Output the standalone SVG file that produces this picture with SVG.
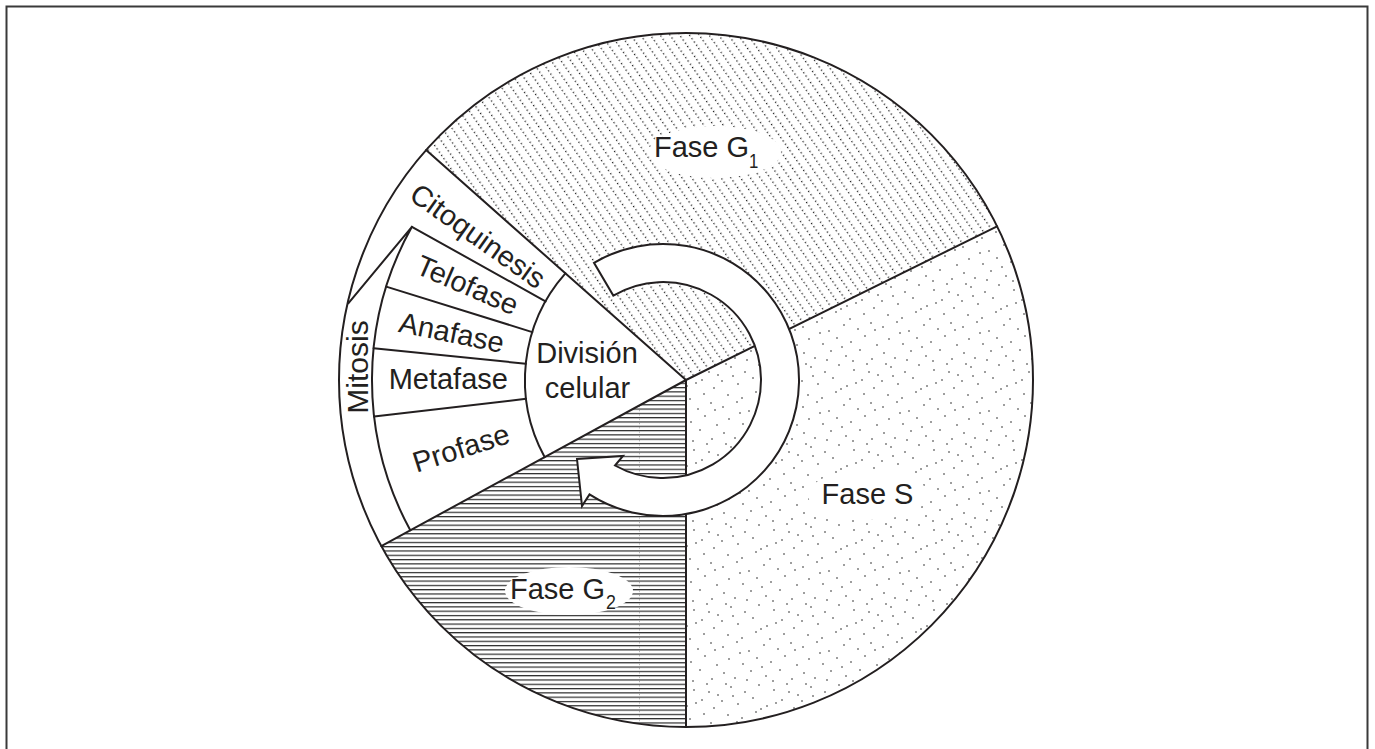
<svg xmlns="http://www.w3.org/2000/svg" width="1375" height="749" viewBox="0 0 1375 749">
<defs>
<style>
.ol{fill:none;stroke:#231f20;stroke-width:2;stroke-linejoin:round;stroke-linecap:round}
.t{font-family:"Liberation Sans",Arial,sans-serif;font-size:29px;fill:#231f20}
.sub{font-family:"Liberation Sans",Arial,sans-serif;font-size:21px;fill:#231f20}
.dot{fill:#222}
</style>
<pattern id="pG1" patternUnits="userSpaceOnUse" width="8" height="4" patternTransform="rotate(-35)"><rect width="1.3" height="1.3" fill="#1a1a1a"/></pattern>
<pattern id="pG2" patternUnits="userSpaceOnUse" x="57" y="0" width="194" height="4.3"><rect y="0" width="194" height="1.2" fill="#2a2a2a"/><rect x="0" y="1.2" width="0.9" height="1.6" fill="#aaa"/></pattern>
<pattern id="pS" patternUnits="userSpaceOnUse" width="80" height="80">
<g class="dot">
<circle cx="3" cy="7" r="0.8"/><circle cx="17" cy="2" r="0.8"/><circle cx="29" cy="11" r="0.8"/><circle cx="44" cy="5" r="0.8"/><circle cx="58" cy="9" r="0.8"/><circle cx="71" cy="3" r="0.8"/><circle cx="9" cy="19" r="0.8"/><circle cx="23" cy="24" r="0.8"/><circle cx="37" cy="18" r="0.8"/><circle cx="51" cy="22" r="0.8"/><circle cx="65" cy="16" r="0.8"/><circle cx="77" cy="25" r="0.8"/><circle cx="4" cy="33" r="0.8"/><circle cx="15" cy="38" r="0.8"/><circle cx="31" cy="31" r="0.8"/><circle cx="46" cy="36" r="0.8"/><circle cx="60" cy="30" r="0.8"/><circle cx="72" cy="39" r="0.8"/><circle cx="11" cy="47" r="0.8"/><circle cx="25" cy="52" r="0.8"/><circle cx="39" cy="45" r="0.8"/><circle cx="54" cy="50" r="0.8"/><circle cx="67" cy="44" r="0.8"/><circle cx="78" cy="55" r="0.8"/><circle cx="2" cy="61" r="0.8"/><circle cx="18" cy="64" r="0.8"/><circle cx="33" cy="58" r="0.8"/><circle cx="47" cy="66" r="0.8"/><circle cx="62" cy="60" r="0.8"/><circle cx="74" cy="68" r="0.8"/><circle cx="8" cy="75" r="0.8"/><circle cx="22" cy="78" r="0.8"/><circle cx="36" cy="72" r="0.8"/><circle cx="50" cy="79" r="0.8"/><circle cx="64" cy="74" r="0.8"/><circle cx="27" cy="40" r="0.8"/><circle cx="56" cy="63" r="0.8"/><circle cx="42" cy="27" r="0.8"/><circle cx="13" cy="56" r="0.8"/><circle cx="69" cy="52" r="0.8"/><circle cx="20" cy="13" r="0.8"/><circle cx="53" cy="41" r="0.8"/><circle cx="6" cy="44" r="0.8"/><circle cx="41" cy="69" r="0.8"/><circle cx="75" cy="10" r="0.8"/>
</g>
</pattern>
</defs>
<rect width="1375" height="749" fill="#fff"/>
<path id="frame" d="M6.5,749 V6.5 H1367.5 V749" fill="none" stroke="#3a3a3a" stroke-width="2"/>

<g id="fase-g1">
<path d="M686,380 L426.1,150.1 A347,347 0 0 1 997.1,226.3 Z" fill="url(#pG1)"/>
<ellipse cx="715" cy="152" rx="66" ry="26" fill="#fff"/>
<text class="t" x="654" y="157">Fase G</text>
<text class="sub" transform="translate(749,168) scale(0.8,1)">1</text>
</g>
<g id="fase-s">
<path d="M686,380 L997.1,226.3 A347,347 0 0 1 686,727 Z" fill="url(#pS)"/>
<ellipse cx="868" cy="495" rx="60" ry="25" fill="#fff"/>
<text class="t" x="867.5" y="504" text-anchor="middle">Fase S</text>
</g>
<g id="fase-g2">
<path d="M686,380 L686,727 A347,347 0 0 1 381.3,546.1 Z" fill="url(#pG2)"/>
<ellipse cx="569" cy="591" rx="64" ry="24" fill="#fff"/>
<text class="t" x="510" y="599">Fase G</text>
<text class="sub" transform="translate(606,609) scale(0.85,1)">2</text>
</g>

<g id="outline">
<circle class="ol" cx="686" cy="380" r="347"/>
<path class="ol" d="M686,380 L426.1,150.1 M686,380 L997.1,226.3 M686,380 L686,727 M686,380 L381.3,546.1"/>
<path class="ol" d="M565.4,273.3 A161,161 0 0 0 544.6,457.1"/>
<path class="ol" d="M411.9,226.8 A314,314 0 0 0 410.3,530.3 M411.9,226.8 L348.3,303.3"/>
<path class="ol" d="M545.5,301.4 L411.9,226.8 M532.3,332.1 L386.2,286.6 M525.8,363.7 L373.6,348.3 M526.1,398.8 L374.1,416.6"/>
</g>

<g id="division-celular">
<text class="t" x="587" y="363" text-anchor="middle">División</text>
<text class="t" x="587.5" y="398" text-anchor="middle">celular</text>
</g>
<g id="citoquinesis"><text class="t" transform="translate(478,236) rotate(35.3)" x="0" y="10" text-anchor="middle">Citoquinesis</text></g>
<g id="telofase"><text class="t" transform="translate(467.5,285) rotate(23.3)" x="0" y="10" text-anchor="middle">Telofase</text></g>
<g id="anafase"><text class="t" transform="translate(451.7,332.5) rotate(11.5)" x="0" y="10" text-anchor="middle">Anafase</text></g>
<g id="metafase"><text class="t" x="448.3" y="389" text-anchor="middle">Metafase</text></g>
<g id="profase"><text class="t" transform="translate(461,448) rotate(-17.6)" x="0" y="10" text-anchor="middle">Profase</text></g>
<g id="mitosis"><text class="t" transform="translate(357,367) rotate(-90)" x="0" y="10.5" text-anchor="middle" style="font-size:30px">Mitosis</text></g>

<g id="connectors">
<path d="M594,262.8 A136,136 0 1 1 589.5,494.4 L582,506 L577,459 L623,456 L615,465.5 A98,98 0 1 0 613.3,295.6 Z" fill="#fff" stroke="#231f20" stroke-width="2" stroke-linejoin="miter"/>
</g>
</svg>
